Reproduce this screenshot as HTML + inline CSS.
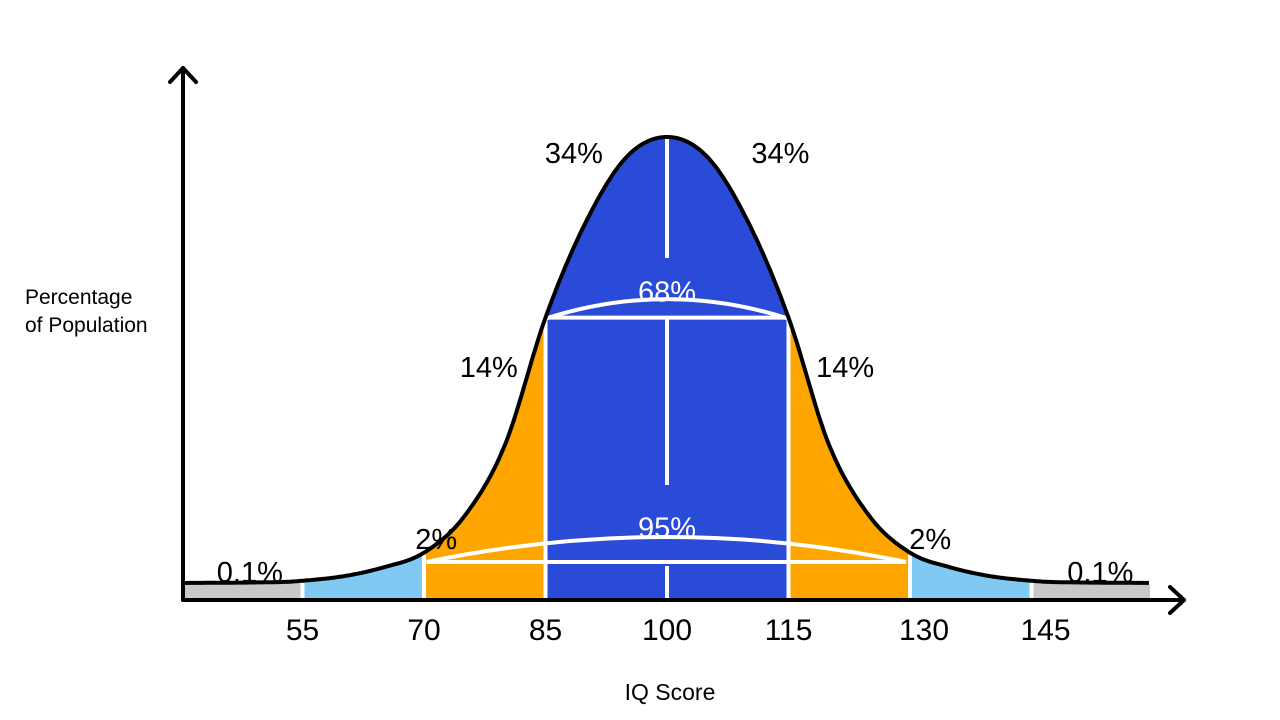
<!DOCTYPE html>
<html><head><meta charset="utf-8"><style>
html,body{margin:0;padding:0;background:#fff;}
svg{display:block;font-family:"Liberation Sans",sans-serif;}
</style></head><body>
<svg id="chart" width="1280" height="720" viewBox="0 0 1280 720" xmlns="http://www.w3.org/2000/svg">
<g id="fills"></g>
<g id="lines"></g>
<path id="curve" fill="none" stroke="#000" stroke-width="4"/>
<g stroke="#000" stroke-width="4" fill="none" stroke-linecap="round" stroke-linejoin="round">
<line x1="183" y1="600" x2="183" y2="68"/>
<polyline points="170,82 183,68 196,82"/>
<line x1="183" y1="600" x2="1183" y2="600"/>
<polyline points="1170,587 1184,600 1170,613"/>
</g>
<g id="ticks" font-size="30" text-anchor="middle" fill="#000"></g>
<g id="pcts" font-size="29" text-anchor="middle"></g>
<text x="25" y="304" font-size="21">Percentage</text>
<text x="25" y="332" font-size="21">of Population</text>
<text x="670" y="700" font-size="23" text-anchor="middle">IQ Score</text>
</svg>
<script>
// curve shape (fraction of peak height), half curve
const curveIQ = [40, 52, 55, 60, 65, 70, 75, 80, 85, 90, 95, 100];
const curveVal = [0, 0.002, 0.005, 0.015, 0.035, 0.068, 0.15, 0.31, 0.595, 0.81, 0.955, 1];
const tickLabels = [55, 70, 85, 100, 115, 130, 145];
const pctLabels = ["34%","34%","68%","14%","14%","95%","2%","2%","0.1%","0.1%"];
const pctIQ = [88.5, 114, 100, 78, 122, 100, 71.5, 132.5, 48.5, 153.5];
const pctLevel = [1.0, 1.0, 0.69, 0.52, 0.52, 0.16, 0.135, 0.135, 0.06, 0.06];
const pctWhite = [0,0,1,0,0,1,0,0,0,0];

const NS="http://www.w3.org/2000/svg";
const xS = iq => 667 + (iq-100)*8.1;
const yS = v => 583 - v*446;
// full curve points
const pts=[];
curveIQ.forEach((q,i)=>pts.push([q,curveVal[i]]));
for(let i=curveIQ.length-2;i>=0;i--) pts.push([200-curveIQ[i],curveVal[i]]);
pts.push([160,0]);
pts.unshift([37,0]);
function valAt(q){
  for(let i=0;i<pts.length-1;i++){
    const a=pts[i],b=pts[i+1];
    if(q>=a[0]&&q<=b[0]){
      // Catmull-Rom
      const p0=pts[Math.max(0,i-1)],p3=pts[Math.min(pts.length-1,i+2)];
      const t=(q-a[0])/(b[0]-a[0]);
      const m1=(b[1]-p0[1])/(b[0]-p0[0])*(b[0]-a[0]);
      const m2=(p3[1]-a[1])/(p3[0]-a[0])*(b[0]-a[0]);
      const t2=t*t,t3=t2*t;
      return (2*t3-3*t2+1)*a[1]+(t3-2*t2+t)*m1+(-2*t3+3*t2)*b[1]+(t3-t2)*m2;
    }
  }
  return 0;
}
const x0=(183-667)/8.1+100, x1=(1150-667)/8.1+100;
function curvePath(a,b){
  let d="";
  for(let q=a;q<=b+1e-9;q+=0.25){
    d+=(d?"L":"M")+xS(q).toFixed(1)+","+yS(Math.max(0,valAt(q))).toFixed(1);
  }
  return d;
}
document.getElementById('curve').setAttribute('d',curvePath(x0,x1));
const fills=document.getElementById('fills');
function band(a,b,color,name){
  const p=document.createElementNS(NS,'path');
  
  
  p.setAttribute('d',curvePath(a,b)+"L"+xS(b)+",598L"+xS(a)+",598Z");
  p.setAttribute('fill',color);
  fills.appendChild(p);
}
band(x0,55,"#c8c8c8","band-gray-left");
band(145,x1,"#c8c8c8","band-gray-right");
band(55,70,"#80c9f2","band-lightblue-left");
band(130,145,"#80c9f2","band-lightblue-right");
band(70,85,"#ffa500","band-orange-left");
band(115,130,"#ffa500","band-orange-right");
band(85,115,"#2a4bd8","band-blue-center");
// gray strips flat
[[x0,55],[145,x1]].forEach((r,i)=>{
  const re=document.createElementNS(NS,'rect');
  
  
  re.setAttribute('x',xS(r[0]));re.setAttribute('y',585);
  re.setAttribute('width',xS(r[1])-xS(r[0]));re.setAttribute('height',13);
  re.setAttribute('fill','#c8c8c8');fills.appendChild(re);
});
const lines=document.getElementById('lines');
function wl(d,name){
  const p=document.createElementNS(NS,'path');
  
  
  p.setAttribute('d',d);p.setAttribute('stroke','#fff');p.setAttribute('stroke-width','4');p.setAttribute('fill','none');
  lines.appendChild(p);
}
[55,70,85,115,130,145].forEach(q=>{
  wl("M"+xS(q)+","+(yS(valAt(q))+2)+"L"+xS(q)+",598","sd-divider");
});
const yc=yS(valAt(85));
wl("M"+xS(85)+","+yc+"L"+xS(115)+","+yc,"sd1-bar");
wl("M"+xS(85)+","+(yc+1)+"Q"+xS(100)+","+(yc-38)+" "+xS(115)+","+(yc+1),"arc-68");
wl("M"+xS(100)+","+yS(1)+"L"+xS(100)+",258","mean-line-top");
wl("M"+xS(100)+","+yc+"L"+xS(100)+",485","mean-line-mid");
wl("M"+xS(100)+",566L"+xS(100)+",598","mean-line-bottom");
const y2=562;
wl("M"+xS(70.3)+","+y2+"L"+xS(129.5)+","+y2,"sd2-bar");
wl("M"+xS(70.3)+","+y2+"Q"+xS(100)+",512 "+xS(129.5)+","+y2,"arc-95");
const ticks=document.getElementById('ticks');
tickLabels.forEach(t=>{
  const tx=document.createElementNS(NS,'text');
  
  
  tx.setAttribute('x',xS(t)+(t>=130?14:0));tx.setAttribute('y',640);tx.textContent=t;
  ticks.appendChild(tx);
});
const pcts=document.getElementById('pcts');
pctLabels.forEach((l,i)=>{
  const tx=document.createElementNS(NS,'text');
  
  
  tx.setAttribute('x',xS(pctIQ[i]));tx.setAttribute('y',yS(pctLevel[i])+26);
  tx.setAttribute('fill',pctWhite[i]?'#fff':'#000');tx.textContent=l;
  pcts.appendChild(tx);
});
</script>
</body></html>
